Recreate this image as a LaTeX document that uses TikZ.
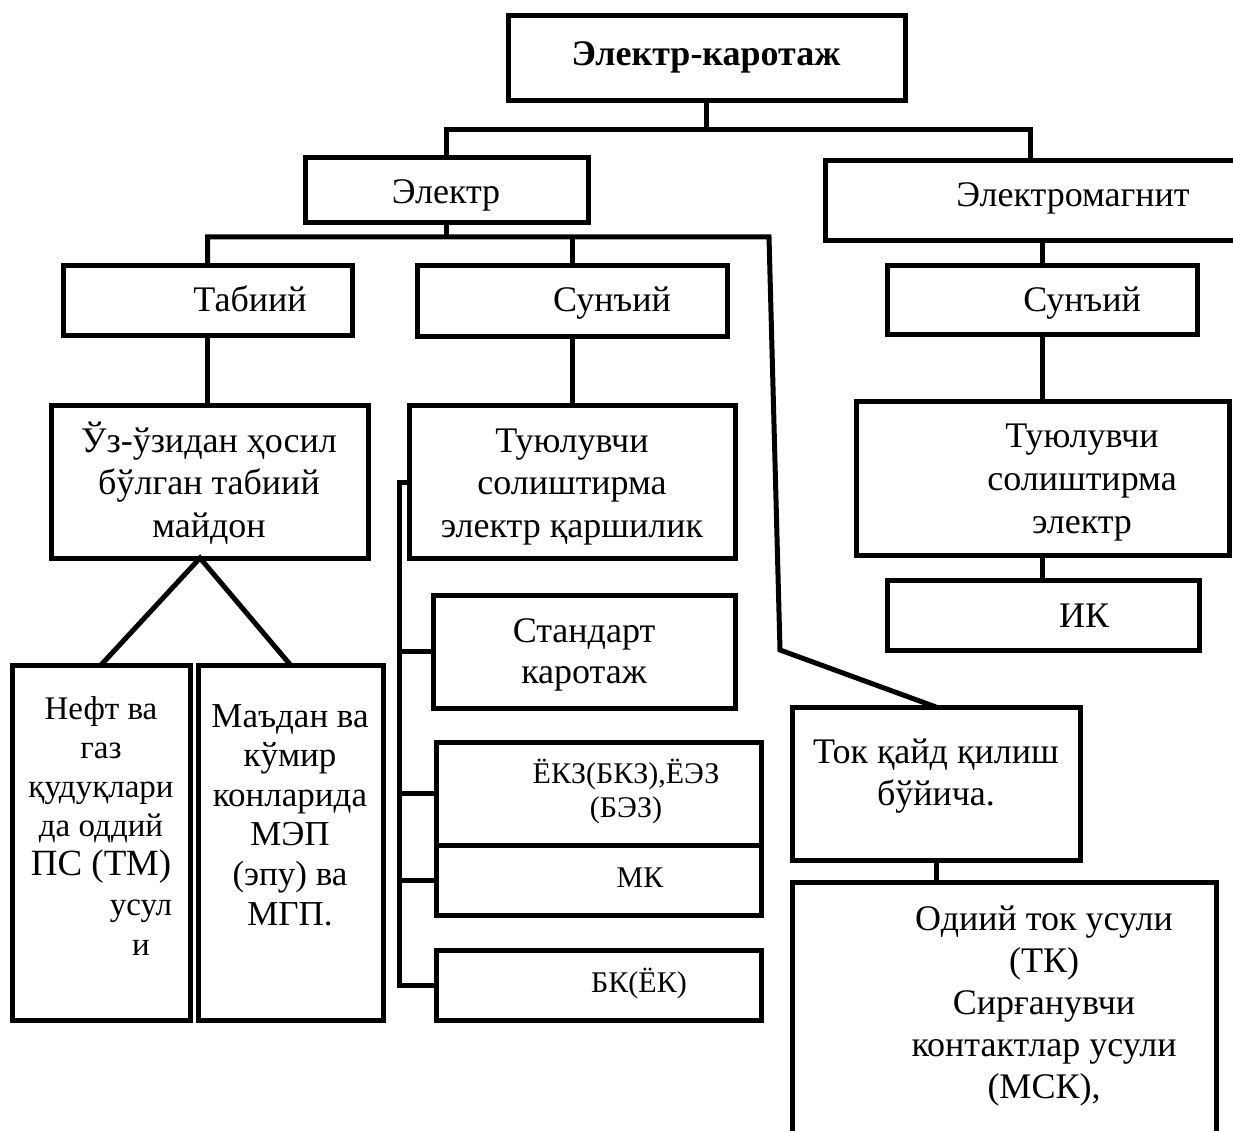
\documentclass[tikz,border=0pt]{standalone}
\usepackage{fontspec}
\setmainfont{Liberation Serif}
\newcommand\mkbox[5]{\node[bx, minimum width={#3-#2}, minimum height={#5-#4}] (#1) at ({(#2+#3)/2},{(#4+#5)/2}) {};}
\begin{document}
\begin{tikzpicture}[x=1pt,y=-1pt,
  bx/.style={draw, line width=5pt, inner sep=0pt, outer sep=0pt},
  ln/.style={line width=5pt},
  tx/.style={anchor=base, inner sep=0pt, align=center, font=\fontsize{36}{42.5}\selectfont}]
\useasboundingbox (0,0) rectangle (1233,1131);
\fill[white] (0,0) rectangle (1233,1131);
\clip (0,0) rectangle (1233,1131);
% boxes
\mkbox{top}{508}{905}{16}{101}
\mkbox{electr}{305}{588}{158}{223}
\mkbox{emag}{825}{1262}{161}{241}
\mkbox{tab}{63}{352}{266}{335}
\mkbox{sun1}{417}{727}{266}{336}
\mkbox{sun2}{887}{1197}{266}{334}
\mkbox{uz}{51}{368}{405}{558}
\mkbox{tuy1}{409}{735}{405}{558}
\mkbox{tuy2}{856}{1229}{401}{555}
\mkbox{ik}{887}{1199}{580}{650}
\mkbox{std}{433}{735}{595}{708}
\mkbox{ekz}{436}{761}{742}{845}
\mkbox{mk}{436}{761}{845}{915}
\mkbox{bk}{436}{761}{950}{1020}
\mkbox{nef}{12}{190}{665}{1020}
\mkbox{mad}{198}{383}{665}{1020}
\mkbox{tok}{792}{1080}{707}{860}
\mkbox{odi}{792}{1216}{882}{1165}
% texts (anchor = baseline of the last line)
\node[tx, font=\fontsize{36}{42}\selectfont\bfseries] (ttop) at (706,66) {Электр-каротаж};
\node[tx] (telectr) at (446,204) {Электр};
\node[tx] (temag) at (1073,207) {Электромагнит};
\node[tx] (ttab) at (250,312) {Табиий};
\node[tx] (tsun1) at (612,312) {Сунъий};
\node[tx] (tsun2) at (1082,312) {Сунъий};
\node[tx] (tuz) at (209,537) {Ўз-ўзидан ҳосил\\бўлган табиий\\майдон};
\node[tx] (ttuy1) at (572,537) {Туюлувчи\\солиштирма\\электр қаршилик};
\node[tx, font=\fontsize{36}{43}\selectfont] (ttuy2) at (1082,533) {Туюлувчи\\солиштирма\\электр};
\node[tx] (tik) at (1084,627) {ИК};
\node[tx, font=\fontsize{36}{41}\selectfont] (tstd) at (584,683) {Стандарт\\каротаж};
\node[tx, font=\fontsize{33}{38.8}\selectfont] (tnef) at (101,875) {Нефт ва\\газ\\қудуқлари\\да оддий\\{\fontsize{37}{38.8}\selectfont ПС (ТМ)}};
\node[tx, font=\fontsize{33}{40}\selectfont] (tnefb) at (141,955) {усул\\и};
\node[tx, font=\fontsize{35}{39.6}\selectfont] (tmad) at (290,925) {Маъдан ва\\кўмир\\конларида\\МЭП\\(эпу) ва\\МГП.};
\node[tx, font=\fontsize{30}{34}\selectfont] (tekz) at (626,817) {ЁКЗ(БКЗ),ЁЭЗ\\(БЭЗ)};
\node[tx, font=\fontsize{30}{34}\selectfont] (tmk) at (640,887) {МК};
\node[tx, font=\fontsize{30}{34}\selectfont] (tbk) at (639,992) {БК(ЁК)};
\node[tx, font=\fontsize{36}{42}\selectfont] (ttok) at (936,805) {Ток қайд қилиш\\бўйича.};
\node[tx, font=\fontsize{36}{42}\selectfont] (todi) at (1044,1098) {Одиий ток усули\\(ТК)\\Сирғанувчи\\контактлар усули\\(МСК),};
% connectors
\coordinate (hA) at (446.5,130);
\coordinate (hB) at (1030,130);
\draw[ln] (top.south) -- (top.south |- hA);
\draw[ln] (electr.north) -- (hA) -- (hB) -- (hB |- emag.north);
\coordinate (hC) at (207.5,237);
\coordinate (hD) at (769,237);
\coordinate (bend) at (780,650);
\draw[ln] (electr.south) -- (electr.south |- hC);
\draw[ln] (tab.north) -- (hC) -- (hD) -- (bend) -- (tok.north);
\draw[ln] (sun1.north) -- (sun1.north |- hC);
\draw[ln] (tab.south) -- (tab.south |- uz.north);
\coordinate (apex) at (200,558);
\draw[ln] (nef.north) -- (apex) -- (mad.north);
\draw[ln] (sun1.south) -- (sun1.south |- tuy1.north);
\coordinate (br) at (399,482);
\draw[ln] (tuy1.west |- br) -- (br) -- (br |- bk.west) -- (bk.west);
\draw[ln] (br |- std.west) -- (std.west);
\draw[ln] (br |- ekz.west) -- (ekz.west);
\draw[ln] (br |- mk.west) -- (mk.west);
\draw[ln] (sun2.north |- emag.south) -- (sun2.north);
\draw[ln] (sun2.south) -- (sun2.south |- tuy2.north);
\draw[ln] (tuy2.south) -- (tuy2.south |- ik.north);
\draw[ln] (tok.south) -- (tok.south |- odi.north);
\end{tikzpicture}
\end{document}
